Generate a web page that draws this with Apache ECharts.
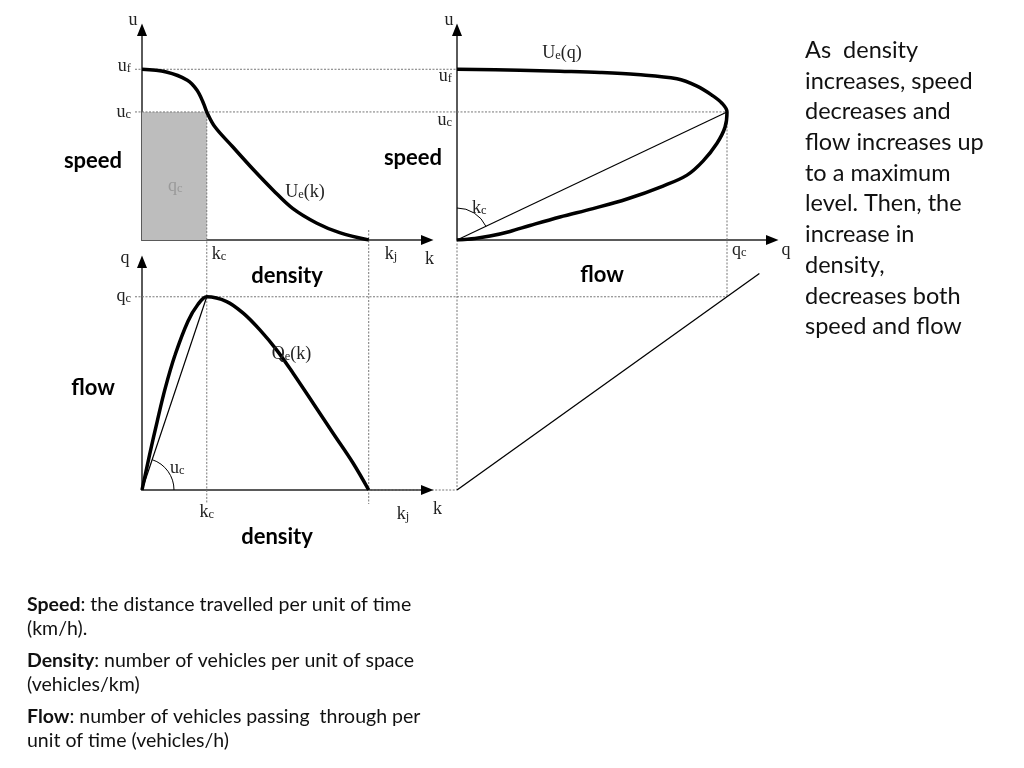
<!DOCTYPE html>
<html>
<head>
<meta charset="utf-8">
<title>Speed, density and flow</title>
<script src="https://cdn.jsdelivr.net/npm/echarts@6/dist/echarts.min.js"></script>
<style>
    html, body { margin: 0; padding: 0; background: #fff; }
    #main { width: 1024px; height: 768px; }
</style>
</head>
<body>
<div id="main"></div>
<script>
// key values of the diagram
var kc = 40, kj = 140;      // critical / jam density
var uf = 100, uc = 75;      // free speed / critical speed
var qc = 3000;              // capacity
var qMirror = 3360;         // end of the mirror line

// speed - density  U_e(k)
var kSpeed = [0, 15, 28, 34, 38, 40, 45, 56, 69, 81, 93, 108, 122, 140];
var uSpeed = [100, 98.4, 93.6, 87.7, 80, 75, 66.3, 54.6, 41, 29.2, 18.5, 9.8, 4.3, 0];

// flow - density  Q_e(k)
var kFlow = [0, 4.7, 9.4, 14.4, 20.5, 28.4, 34.5, 40, 52.3, 62.5, 72.8, 83.1, 93.3, 105.7, 118, 130.4, 140];
var qFlow = [0, 548, 1067, 1585, 2103, 2621, 2880, 3000, 2926, 2746, 2486, 2176, 1813, 1347, 881, 415, 0];

// speed - flow  U_e(q), upper branch then lower branch
var qCurve = [0, 700, 1144, 1589, 2000, 2444, 2667, 2833, 2944, 3000, 2978, 2889, 2733, 2556, 2289, 1889, 1511, 1144, 811, 589, 367, 200, 0];
var uCurve = [100, 99.4, 98.8, 98.1, 96.9, 94.4, 90.1, 84.8, 80.1, 75, 66.1, 56.7, 46.2, 38, 31.6, 24, 18.4, 13.5, 8.5, 5, 2.3, 0.9, 0];

// axis ranges: [speed-density, speed-flow, flow-density]
var xMax = [176, 3500, 176];
var yMax = [123, 123, 3540];

var sideText = ['As  density', 'increases, speed', 'decreases and', 'flow increases up',
    'to a maximum', 'level. Then, the', 'increase in', 'density,', 'decreases both', 'speed and flow'];

var notes = [
    ['Speed', ': the distance travelled per unit of time', '(km/h).'],
    ['Density', ': number of vehicles per unit of space', '(vehicles/km)'],
    ['Flow', ': number of vehicles passing  through per', 'unit of time (vehicles/h)']
];

function zip(a, b) {
    return a.map(function (v, i) { return [v, b[i]]; });
}

var myChart = echarts.init(document.getElementById('main'));

var grids = [
    { left: 142, top: 30, width: 285, height: 210 },
    { left: 457, top: 30, width: 315, height: 210 },
    { left: 142, top: 262, width: 285, height: 228 }
];

function axis(i, max) {
    return {
        type: 'value',
        gridIndex: i,
        min: 0,
        max: max,
        axisLine: {
            show: true,
            onZero: false,
            lineStyle: { color: '#5a5a5a', width: 2 }
        },
        axisTick: { show: false },
        axisLabel: { show: false },
        splitLine: { show: false }
    };
}

var thick = { color: '#000', width: 3.5 };
var thin = { color: '#000', width: 1.2 };

var option = {
    backgroundColor: '#fff',
    animation: false,
    grid: grids,
    xAxis: [axis(0, xMax[0]), axis(1, xMax[1]), axis(2, xMax[2])],
    yAxis: [axis(0, yMax[0]), axis(1, yMax[1]), axis(2, yMax[2])],
    series: [
        // shaded q_c rectangle
        {
            type: 'line', xAxisIndex: 0, yAxisIndex: 0, z: 1,
            data: [[0, uc], [kc, uc]],
            symbol: 'none',
            lineStyle: { opacity: 0 },
            areaStyle: { color: '#bdbdbd', opacity: 1 }
        },
        {
            type: 'line', xAxisIndex: 0, yAxisIndex: 0,
            data: zip(kSpeed, uSpeed),
            smooth: 0.35, symbol: 'none', lineStyle: thick
        },
        {
            type: 'line', xAxisIndex: 1, yAxisIndex: 1,
            data: zip(qCurve, uCurve),
            smooth: 0.35, symbol: 'none', lineStyle: thick
        },
        {
            type: 'line', xAxisIndex: 1, yAxisIndex: 1,
            data: [[0, 0], [qc, uc]],
            symbol: 'none', lineStyle: thin
        },
        {
            type: 'line', xAxisIndex: 2, yAxisIndex: 2,
            data: zip(kFlow, qFlow),
            smooth: 0.35, symbol: 'none', lineStyle: thick
        },
        {
            type: 'line', xAxisIndex: 2, yAxisIndex: 2,
            data: [[0, 0], [kc, qc]],
            symbol: 'none', lineStyle: thin
        }
    ]
};

myChart.setOption(option);

// pixel of a data point in grid g
function P(g, x, y) {
    return myChart.convertToPixel({ gridIndex: g }, [x, y]);
}

var graphics = [];

// black arrow heads at the axis ends
function arrow(p, dir) {
    var pts = dir === 'x'
        ? [[p[0] - 6, p[1] - 5], [p[0] + 6.5, p[1]], [p[0] - 6, p[1] + 5]]
        : [[p[0] - 5, p[1] + 6], [p[0], p[1] - 6.5], [p[0] + 5, p[1] + 6]];
    graphics.push({ type: 'polygon', z: 4, shape: { points: pts }, style: { fill: '#000' } });
}
for (var g = 0; g < 3; g++) {
    arrow(P(g, xMax[g], 0), 'x');
    arrow(P(g, 0, yMax[g]), 'y');
}

// dotted guide lines
function dotted(a, b) {
    graphics.push({
        type: 'line', z: 1, silent: true,
        shape: { x1: a[0], y1: a[1], x2: b[0], y2: b[1] },
        style: { stroke: '#777', lineWidth: 1, lineDash: [2, 1.5] }
    });
}

var o2 = P(1, 0, 0);
var o3 = P(2, 0, 0);
var qcX = P(1, qc, 0)[0];
var qcY = P(2, 0, qc)[1];

dotted([P(0, 0, uf)[0] - 7, P(0, 0, uf)[1]], P(1, 0, uf));
dotted([P(0, 0, uc)[0] - 7, P(0, 0, uc)[1]], P(1, qc, uc));
dotted(P(0, kc, uc), [P(2, kc, 0)[0], o3[1] + 13]);
dotted([P(0, kj, 0)[0], P(0, kj, 0)[1] - 10], [P(2, kj, 0)[0], o3[1] + 14]);
dotted([o3[0] - 7, qcY], [qcX, qcY]);
dotted(P(1, qc, uc), [qcX, qcY]);
dotted(o2, [o2[0], o3[1]]);
dotted(P(2, kj, 0), [o2[0], o3[1]]);

// mirror line: x from the q axis of speed-flow, y from the q axis of flow-density
graphics.push({
    type: 'line', z: 3,
    shape: { x1: o2[0], y1: o3[1], x2: P(1, qMirror, 0)[0], y2: P(2, 0, qMirror)[1] },
    style: { stroke: '#000', lineWidth: 1.3 }
});

// angle arcs
var c3 = P(2, kc, qc);
graphics.push({
    type: 'arc', z: 3,
    shape: { cx: o3[0], cy: o3[1], r: 32, startAngle: Math.atan2(c3[1] - o3[1], c3[0] - o3[0]), endAngle: 0, clockwise: true },
    style: { stroke: '#000', fill: null, lineWidth: 1 }
});
var c2 = P(1, qc, uc);
graphics.push({
    type: 'arc', z: 3,
    shape: { cx: o2[0], cy: o2[1], r: 32, startAngle: -Math.PI / 2, endAngle: Math.atan2(c2[1] - o2[1], c2[0] - o2[0]), clockwise: true },
    style: { stroke: '#000', fill: null, lineWidth: 1 }
});

// math labels: grid, x, y, dx, dy, align, main, subscript, tail, colour
var mathLabels = [
    [0, 0, yMax[0], -9, -12, 'center', 'u', '', ''],
    [0, 0, uf, -11, -5, 'right', 'u', 'f', ''],
    [0, 0, uc, -11, -2, 'right', 'u', 'c', ''],
    [0, kc, 0, 5, 12, 'left', 'k', 'c', ''],
    [0, kj, 0, 16, 12, 'left', 'k', 'j', ''],
    [0, xMax[0], 0, -2, 17, 'left', 'k', '', ''],
    [0, 81, 29.2, 12, 0, 'left', 'U', 'e', '(k)'],
    [0, kc / 2, uc / 2, 1, 8, 'center', 'q', 'c', '', '#9a9a9a'],
    [1, 0, yMax[1], -8, -12, 'center', 'u', '', ''],
    [1, 0, uf, -5, 5, 'right', 'u', 'f', ''],
    [1, 0, uc, -5, 6, 'right', 'u', 'c', ''],
    [1, 0, uf, 105, -18, 'center', 'U', 'e', '(q)'],
    [1, 0, 0, 15, -34, 'left', 'k', 'c', ''],
    [1, qc, 0, 5, 8, 'left', 'q', 'c', ''],
    [1, xMax[1], 0, 14, 8, 'center', 'q', '', ''],
    [2, 0, yMax[2], -17, -6, 'center', 'q', '', ''],
    [2, 0, qc, -11, -3, 'right', 'q', 'c', ''],
    [2, kc, 0, 0, 20, 'center', 'k', 'c', ''],
    [2, kj, 0, 28, 22, 'left', 'k', 'j', ''],
    [2, xMax[2], 0, 6, 17, 'left', 'k', '', ''],
    [2, kc, qc, 65, 55, 'left', 'Q', 'e', '(k)'],
    [2, 0, 0, 28, -24, 'left', 'u', 'c', '']
];

var serif = '"Liberation Serif", "DejaVu Serif", serif';

mathLabels.forEach(function (l) {
    var p = P(l[0], l[1], l[2]);
    var t = '{m|' + l[6] + '}';
    if (l[7]) t += '{s|' + l[7] + '}';
    if (l[8]) t += '{m|' + l[8] + '}';
    graphics.push({
        type: 'text', z: 5,
        style: {
            text: t,
            x: p[0] + l[3],
            y: p[1] + l[4],
            fill: l[9] || '#222',
            textAlign: l[5],
            textVerticalAlign: 'middle',
            rich: {
                m: { fontFamily: serif, fontSize: 18, lineHeight: 22, verticalAlign: 'bottom' },
                s: { fontFamily: serif, fontSize: 12.5, lineHeight: 10, verticalAlign: 'bottom' }
            }
        }
    });
});

// bold axis titles
var titles = [
    ['speed', 93, 161], ['speed', 413, 158], ['density', 287, 276],
    ['flow', 602, 275], ['flow', 93, 388], ['density', 277, 537]
];
titles.forEach(function (t) {
    graphics.push({
        type: 'text', z: 5,
        style: {
            text: t[0], x: t[1], y: t[2],
            fontFamily: 'Lato, "Open Sans", sans-serif', fontWeight: 'bold', fontSize: 22,
            fill: '#000', textAlign: 'center', textVerticalAlign: 'middle'
        }
    });
});

// explanation on the right
graphics.push({
    type: 'text', z: 5,
    style: {
        text: sideText.join('\n'), x: 805, y: 35,
        fontFamily: 'Lato, "Open Sans", sans-serif', fontSize: 23.5, lineHeight: 30.7,
        fill: '#111', textAlign: 'left', textVerticalAlign: 'top'
    }
});

// definitions at the bottom
notes.forEach(function (n, i) {
    graphics.push({
        type: 'text', z: 5,
        style: {
            text: '{b|' + n[0] + '}{n|' + n[1] + '}\n{n|' + n[2] + '}',
            x: 27, y: 592 + i * 56,
            fill: '#111', textAlign: 'left', textVerticalAlign: 'top',
            rich: {
                b: { fontFamily: 'Lato, sans-serif', fontWeight: 'bold', fontSize: 19.5, lineHeight: 24.5 },
                n: { fontFamily: 'Lato, sans-serif', fontSize: 19.5, lineHeight: 24.5 }
            }
        }
    });
});

myChart.setOption({ graphic: { elements: graphics } });

window.addEventListener('resize', function () {
    myChart.resize();
});
</script>
</body>
</html>
